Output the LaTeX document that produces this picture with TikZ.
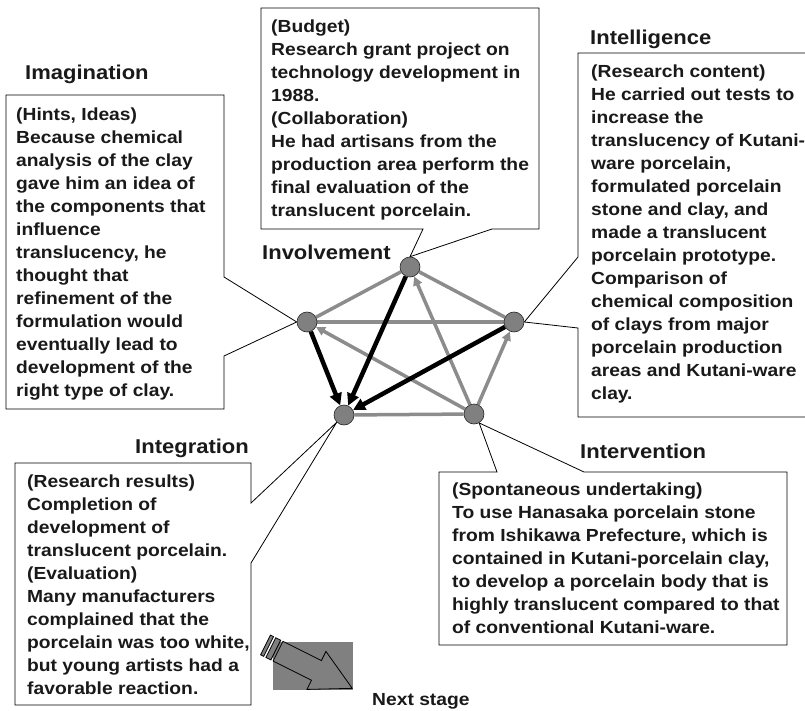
\documentclass[tikz,border=0pt]{standalone}
\usepackage{fontspec}
\setmainfont{Liberation Sans}[FakeStretch=1.1]
\usetikzlibrary{arrows.meta}

\pgfdeclarelayer{back}
\pgfdeclarelayer{mid}
\pgfsetlayers{back,mid,main}

\definecolor{linegray}{gray}{0.55}
\definecolor{dotgray}{gray}{0.5}
\definecolor{inkblack}{gray}{0.1}

\newcommand\bodyfont{\fontsize{17.5}{23}\selectfont\bfseries}
\newcommand\headfont{\fontsize{20}{24}\selectfont\bfseries}
% a block of left-aligned lines whose baseline is that of its first line
\newcommand\boxlines[1]{\parbox[t]{360pt}{\bodyfont\raggedright #1}}

\tikzset{
  dot/.style={circle, fill=dotgray, draw=black!85, line width=0.6pt,
              minimum size=20pt, inner sep=0pt},
  link/.style={draw=linegray, line width=3.5pt},
  grayarrow/.style={link, -{Triangle[length=9pt,width=9pt]}},
  blackarrow/.style={draw=black, line width=4.5pt,
                     -{Triangle[length=12pt,width=12pt]}},
  callout/.style={draw=black, fill=white, line width=0.8pt, line join=miter},
  head/.style={anchor=base west, inner sep=0pt, text=inkblack, font=\headfont},
  body/.style={anchor=base west, inner sep=0pt, text=inkblack},
  blockarrow/.style={fill=dotgray, draw=black, line width=0.8pt, line join=miter},
}

\begin{document}
\begin{tikzpicture}[x=1pt,y=-1pt]
\useasboundingbox (0,0) rectangle (805,711);
\clip (0,0) rectangle (805,711);

% the five stages of the cycle
\node[dot] (inv) at (410,267) {};
\node[dot] (ima) at (307,322) {};
\node[dot] (itl) at (514,322) {};
\node[dot] (itg) at (344,415) {};
\node[dot] (itv) at (474,414) {};

% callout boxes pointing at their stage
\begin{pgfonlayer}{back}
  \draw[callout] (261,8) -- (539,8) -- (539,229) -- (492,229) -- (inv.north)
                 -- (423,229) -- (261,229) -- cycle;
  \draw[callout] (6,95) -- (224,95) -- (224,277) -- (ima.west)
                 -- (224,356) -- (224,409) -- (6,409) -- cycle;
  \draw[callout] (578,53) -- (815,53) -- (815,417) -- (578,417) -- (578,328)
                 -- (itl.east) -- (578,257) -- cycle;
  \draw[callout] (15,463) -- (251,463) -- (251,503) -- (itg.225)
                 -- (251,563) -- (251,705) -- (15,705) -- cycle;
  \draw[callout] (439,472) -- (497,472) -- (itv.-60) -- (584,472)
                 -- (787,472) -- (787,645) -- (439,645) -- cycle;
\end{pgfonlayer}

% links between the stages
\begin{pgfonlayer}{mid}
  \draw[link] (inv) -- (ima);
  \draw[link] (inv) -- (itl);
  \draw[link] (ima) -- (itl);
  \draw[link] (itg) -- (itv);
  \draw[grayarrow] (itv) -- (inv);
  \draw[grayarrow] (itv) -- (ima);
  \draw[grayarrow] (itv) -- (itl);
  \draw[blackarrow] (inv) -- (itg);
  \draw[blackarrow] (ima) -- (itg);
  \draw[blackarrow] (itl) -- (itg);
\end{pgfonlayer}

% stage titles
\node[head] (tima) at (25,80)   {Imagination};
\node[head] (tinv) at (262,259) {Involvement};
\node[head] (titl) at (590,45)  {Intelligence};
\node[head] (titg) at (135,453) {Integration};
\node[head] (titv) at (580,458) {Intervention};

% callout texts
\node[body] (budget) at (271,33) {\boxlines{%
(Budget)\\
Research grant project on\\
technology development in\\
1988.\\
(Collaboration)\\
He had artisans from the\\
production area perform the\\
final evaluation of the\\
translucent porcelain.}};

\node[body] (hints) at (16,121) {\boxlines{%
(Hints, Ideas)\\
Because chemical\\
analysis of the clay\\
gave him an idea of\\
the components that\\
influence\\
translucency, he\\
thought that\\
refinement of the\\
formulation would\\
eventually lead to\\
development of the\\
right type of clay.}};

\node[body] (content) at (591,78) {\boxlines{%
(Research content)\\
He carried out tests to\\
increase the\\
translucency of Kutani-\\
ware porcelain,\\
formulated porcelain\\
stone and clay, and\\
made a translucent\\
porcelain prototype.\\
Comparison of\\
chemical composition\\
of clays from major\\
porcelain production\\
areas and Kutani-ware\\
clay.}};

\node[body] (results) at (27,487) {\boxlines{%
(Research results)\\
Completion of\\
development of\\
translucent porcelain.\\
(Evaluation)\\
Many manufacturers\\
complained that the\\
porcelain was too white,\\
but young artists had a\\
favorable reaction.}};

\node[body] (spont) at (452,495) {\boxlines{%
(Spontaneous undertaking)\\
To use Hanasaka porcelain stone\\
from Ishikawa Prefecture, which is\\
contained in Kutani-porcelain clay,\\
to develop a porcelain body that is\\
highly translucent compared to that\\
of conventional Kutani-ware.}};

% striped block arrow towards the next stage
\fill[dotgray] (273,642) rectangle (353,690);
\begin{scope}[shift={(265.5,644.9)}, rotate=-26.6]
  \draw[blockarrow] (0,-11) -- (3.5,-11) -- (3.5,11) -- (0,11) -- cycle;
  \draw[blockarrow] (6,-11) -- (11.5,-11) -- (11.5,11) -- (6,11) -- cycle;
  \draw[blockarrow] (14,-11) -- (57,-11) -- (57,-21.25) -- (97,0)
                    -- (57,21.25) -- (57,11) -- (14,11) -- cycle;
\end{scope}
\node[body] (next) at (372,705) {\bodyfont Next stage};

\end{tikzpicture}
\end{document}
